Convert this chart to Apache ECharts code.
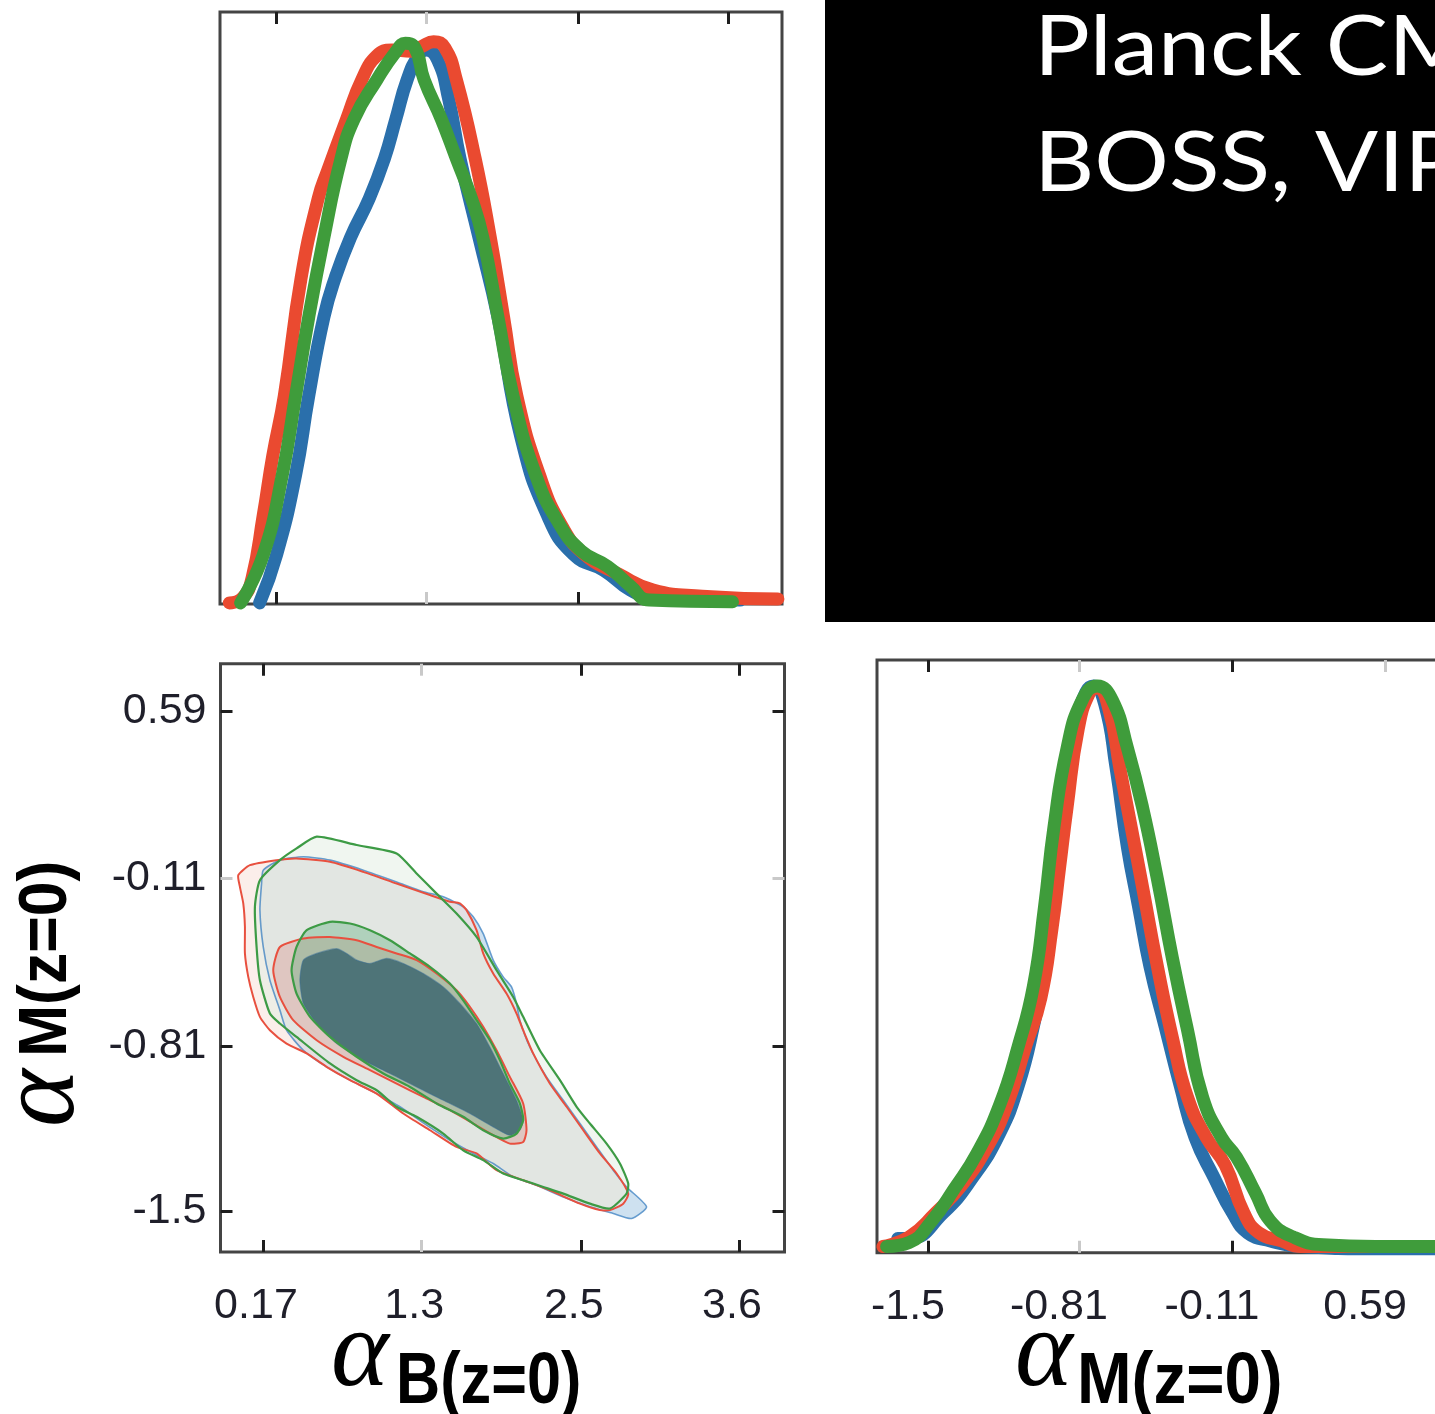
<!DOCTYPE html>
<html>
<head>
<meta charset="utf-8">
<script src="https://cdn.jsdelivr.net/npm/echarts@6/dist/echarts.min.js"></script>
<style>
  html, body { margin: 0; padding: 0; background: #ffffff; }
  #chart { width: 1435px; height: 1414px; }
</style>
</head>
<body>
<div id="chart"></div>
<script>
// ---- tick marks and their printed labels ----
const alphaBTicks = [0.17, 1.31, 2.46, 3.6];
const alphaBTickLabels = ['0.17', '1.3', '2.5', '3.6'];
const alphaMTicks = [-1.5, -0.81, -0.11, 0.59];
const alphaMTickLabels = ['-1.5', '-0.81', '-0.11', '0.59'];

// ---- 1D marginal posterior of alpha_B(z=0), [alphaB, normalised density] ----
const alphaBBlue = [[0.041,0.002],[0.170,0.088],[0.314,0.230],[0.414,0.371],[0.529,0.512],[0.616,0.583],[0.731,0.654],[0.874,0.724],[0.989,0.795],[1.076,0.866],[1.162,0.936],[1.248,0.979],[1.306,0.989],[1.392,0.972],[1.478,0.901],[1.564,0.795],[1.708,0.654],[1.852,0.512],[2.024,0.300],[2.226,0.159],[2.427,0.088],[2.657,0.060],[2.858,0.025],[3.031,0.011],[3.692,0.007]];
const alphaBRed = [[-0.189,0.002],[-0.089,0.011],[-0.017,0.046],[0.069,0.159],[0.141,0.265],[0.228,0.371],[0.357,0.583],[0.486,0.724],[0.558,0.774],[0.702,0.866],[0.817,0.936],[0.932,0.979],[1.047,0.989],[1.191,0.987],[1.277,0.996],[1.363,1.004],[1.449,0.993],[1.536,0.936],[1.679,0.795],[1.794,0.654],[1.895,0.512],[1.996,0.371],[2.168,0.230],[2.341,0.138],[2.513,0.088],[2.772,0.053],[3.031,0.025],[3.404,0.014],[3.979,0.009]];
const alphaBGreen = [[-0.103,0.002],[0.069,0.088],[0.213,0.230],[0.314,0.371],[0.414,0.512],[0.529,0.654],[0.659,0.795],[0.759,0.866],[0.932,0.936],[1.076,0.986],[1.148,1.001],[1.219,0.994],[1.291,0.936],[1.421,0.866],[1.536,0.795],[1.651,0.724],[1.737,0.654],[1.852,0.512],[1.967,0.371],[2.139,0.230],[2.312,0.145],[2.484,0.095],[2.686,0.067],[2.858,0.032],[3.002,0.007],[3.634,0.004]];

// ---- 1D marginal posterior of alpha_M(z=0) ----
const alphaMBlue = [[-1.638,0.025],[-1.586,0.025],[-1.431,0.070],[-1.294,0.134],[-1.173,0.211],[-1.087,0.296],[-1.018,0.401],[-0.967,0.507],[-0.924,0.648],[-0.881,0.789],[-0.829,0.930],[-0.778,0.993],[-0.743,1.004],[-0.692,0.972],[-0.640,0.859],[-0.588,0.718],[-0.537,0.613],[-0.485,0.507],[-0.416,0.401],[-0.347,0.296],[-0.279,0.204],[-0.193,0.134],[-0.107,0.070],[-0.038,0.035],[0.065,0.021],[0.203,0.011],[0.547,0.007],[0.822,0.007]];
const alphaMRed = [[-1.706,0.011],[-1.586,0.028],[-1.466,0.070],[-1.345,0.120],[-1.225,0.190],[-1.139,0.261],[-1.053,0.366],[-0.984,0.451],[-0.932,0.577],[-0.898,0.683],[-0.864,0.789],[-0.812,0.930],[-0.760,0.993],[-0.726,1.000],[-0.674,0.965],[-0.623,0.859],[-0.571,0.754],[-0.519,0.648],[-0.451,0.507],[-0.382,0.380],[-0.313,0.275],[-0.227,0.204],[-0.141,0.155],[-0.055,0.070],[0.014,0.035],[0.117,0.021],[0.203,0.011],[0.616,0.011]];
const alphaMGreen = [[-1.689,0.011],[-1.586,0.018],[-1.483,0.056],[-1.380,0.113],[-1.276,0.176],[-1.173,0.261],[-1.087,0.366],[-1.018,0.472],[-0.967,0.613],[-0.924,0.754],[-0.864,0.894],[-0.795,0.979],[-0.726,1.004],[-0.657,0.979],[-0.588,0.894],[-0.519,0.789],[-0.451,0.662],[-0.382,0.521],[-0.313,0.394],[-0.244,0.275],[-0.158,0.204],[-0.089,0.169],[-0.003,0.106],[0.065,0.056],[0.169,0.028],[0.306,0.014],[0.547,0.011],[0.822,0.011]];

// ---- 2D credible regions in the (alpha_B, alpha_M) plane: 95% (outer) and 68% (inner) ----
const contourBlueOuter = [[0.172,-0.075],[0.292,-0.033],[0.461,-0.019],[0.653,-0.033],[0.893,-0.075],[1.133,-0.124],[1.325,-0.165],[1.469,-0.186],[1.613,-0.228],[1.685,-0.270],[1.757,-0.340],[1.829,-0.451],[1.901,-0.521],[1.961,-0.563],[1.997,-0.632],[2.021,-0.702],[2.093,-0.814],[2.213,-0.939],[2.334,-1.037],[2.454,-1.134],[2.574,-1.232],[2.694,-1.329],[2.790,-1.399],[2.934,-1.482],[2.826,-1.531],[2.694,-1.510],[2.526,-1.482],[2.334,-1.441],[2.141,-1.392],[1.973,-1.357],[1.829,-1.301],[1.685,-1.259],[1.517,-1.204],[1.349,-1.141],[1.157,-1.064],[0.989,-1.009],[0.821,-0.960],[0.628,-0.897],[0.461,-0.828],[0.340,-0.744],[0.292,-0.660],[0.220,-0.535],[0.172,-0.396],[0.148,-0.242],[0.160,-0.131]];
const contourRedOuter = [[-0.008,-0.096],[0.076,-0.054],[0.268,-0.033],[0.412,-0.026],[0.653,-0.040],[0.893,-0.082],[1.133,-0.131],[1.373,-0.179],[1.517,-0.207],[1.589,-0.214],[1.637,-0.242],[1.709,-0.326],[1.757,-0.423],[1.829,-0.507],[1.925,-0.591],[1.997,-0.674],[2.045,-0.744],[2.117,-0.841],[2.237,-0.967],[2.358,-1.064],[2.478,-1.162],[2.598,-1.259],[2.718,-1.343],[2.802,-1.427],[2.766,-1.469],[2.670,-1.496],[2.598,-1.496],[2.454,-1.469],[2.237,-1.413],[2.045,-1.371],[1.853,-1.329],[1.709,-1.259],[1.565,-1.232],[1.373,-1.162],[1.181,-1.092],[0.989,-1.009],[0.797,-0.953],[0.628,-0.897],[0.485,-0.841],[0.340,-0.800],[0.220,-0.744],[0.148,-0.688],[0.100,-0.605],[0.064,-0.521],[0.040,-0.423],[0.040,-0.311],[0.028,-0.214],[0.004,-0.145]];
const contourGreenOuter = [[0.148,-0.117],[0.292,-0.033],[0.412,0.016],[0.557,0.065],[0.845,0.030],[1.133,-0.005],[1.277,-0.089],[1.421,-0.173],[1.565,-0.256],[1.709,-0.354],[1.853,-0.493],[1.973,-0.605],[2.045,-0.688],[2.165,-0.828],[2.310,-0.953],[2.430,-1.064],[2.526,-1.134],[2.646,-1.218],[2.742,-1.301],[2.802,-1.385],[2.790,-1.427],[2.670,-1.489],[2.526,-1.469],[2.334,-1.427],[2.190,-1.399],[2.045,-1.371],[1.901,-1.343],[1.757,-1.287],[1.613,-1.246],[1.469,-1.176],[1.277,-1.106],[1.133,-1.064],[0.989,-0.995],[0.845,-0.953],[0.653,-0.883],[0.412,-0.772],[0.292,-0.716],[0.220,-0.674],[0.148,-0.535],[0.124,-0.396],[0.112,-0.228]];
const contourBlueInner = [[0.461,-0.451],[0.557,-0.423],[0.701,-0.403],[0.773,-0.423],[0.845,-0.451],[0.941,-0.465],[1.061,-0.444],[1.181,-0.465],[1.325,-0.507],[1.469,-0.563],[1.589,-0.632],[1.709,-0.716],[1.805,-0.814],[1.901,-0.925],[1.997,-1.037],[2.045,-1.120],[2.021,-1.162],[1.949,-1.183],[1.829,-1.148],[1.661,-1.092],[1.469,-1.037],[1.277,-0.981],[1.085,-0.925],[0.893,-0.869],[0.701,-0.800],[0.557,-0.716],[0.461,-0.632],[0.436,-0.535]];
const contourRedInner = [[0.292,-0.396],[0.461,-0.361],[0.653,-0.354],[0.845,-0.368],[0.989,-0.396],[1.133,-0.423],[1.277,-0.451],[1.421,-0.507],[1.565,-0.577],[1.661,-0.646],[1.757,-0.730],[1.853,-0.828],[1.949,-0.939],[2.045,-1.050],[2.069,-1.162],[2.045,-1.211],[1.949,-1.218],[1.829,-1.183],[1.685,-1.134],[1.517,-1.078],[1.325,-1.023],[1.133,-0.967],[0.941,-0.911],[0.749,-0.855],[0.557,-0.786],[0.388,-0.702],[0.292,-0.605],[0.244,-0.493]];
const contourGreenInner = [[0.485,-0.326],[0.653,-0.291],[0.797,-0.298],[0.941,-0.326],[1.085,-0.368],[1.229,-0.423],[1.373,-0.479],[1.517,-0.549],[1.613,-0.619],[1.709,-0.702],[1.805,-0.786],[1.877,-0.869],[1.949,-0.967],[2.021,-1.050],[2.045,-1.120],[1.997,-1.176],[1.901,-1.197],[1.757,-1.162],[1.613,-1.106],[1.421,-1.050],[1.229,-0.981],[1.037,-0.925],[0.845,-0.855],[0.653,-0.772],[0.509,-0.688],[0.412,-0.591],[0.376,-0.493],[0.412,-0.396]];

// ---- styling ----
const BLUE = '#2a6fab', RED = '#ea4a30', GREEN = '#3f9c3b';
const TICK_DARK = '#1e1e1e', TICK_LIGHT = '#c9c9c9';
const LABEL_FONT = 'Liberation Sans';

const chart = echarts.init(document.getElementById('chart'), null, { renderer: 'canvas' });

const grids = [
  { left: 220, top: 12, width: 562, height: 592 },        // alpha_B marginal
  { left: 220.5, top: 663.7, width: 564, height: 588.3 }, // alpha_B vs alpha_M
  { left: 877, top: 660, width: 563, height: 592.7 }      // alpha_M marginal
].map(g => Object.assign({
  show: true, borderColor: '#444444', borderWidth: 3, backgroundColor: 'transparent',
  containLabel: false, outerBoundsMode: 'none'
}, g));

const xAxes = [], yAxes = [];
const labelFmt = (ticks, labels) => v => {
  const i = ticks.findIndex(t => Math.abs(t - v) < 1e-9);
  return i < 0 ? '' : labels[i];
};

// One axis per side and tick shade; the first one carries the labels and the series.
function addAxes(list, o) {
  const mainIndex = list.length;
  o.sides.forEach((side, s) => {
    [[o.dark, TICK_DARK], [o.light, TICK_LIGHT]].forEach(([vals, color], j) => {
      const ax = {
        type: 'value', gridIndex: o.grid, min: o.min, max: o.max, position: side,
        axisLine: { show: false, onZero: false }, splitLine: { show: false }, axisPointer: { show: false },
        axisTick: { show: vals.length > 0, inside: true, length: 12, customValues: vals,
                    lineStyle: { color: color, width: 3 } },
        axisLabel: { show: false }
      };
      if (s === 0 && j === 0 && o.labels) ax.axisLabel = Object.assign({
        show: true, customValues: o.labelTicks, formatter: labelFmt(o.labelTicks, o.labels),
        fontFamily: LABEL_FONT, fontSize: 43, color: '#1f1f2a'
      }, o.labelStyle);
      list.push(ax);
    });
  });
  return mainIndex;
}

// alpha_B marginal
const xB1 = addAxes(xAxes, { grid: 0, min: -0.26, max: 4.01, sides: ['bottom', 'top'],
  dark: [0.17, 2.46, 3.6], light: [1.31] });
const yB1 = yAxes.length;
yAxes.push({ type: 'value', gridIndex: 0, min: 0, max: 1.057, show: false });

// 2D panel
const x2 = addAxes(xAxes, { grid: 1, min: -0.136, max: 3.928, sides: ['bottom', 'top'],
  dark: [0.17, 2.46, 3.6], light: [1.31],
  labels: alphaBTickLabels, labelTicks: alphaBTicks,
  labelStyle: { margin: 33, padding: [0, 14, 0, 0] } });
const y2 = addAxes(yAxes, { grid: 1, min: -1.671, max: 0.788, sides: ['left', 'right'],
  dark: [0.59, -0.81, -1.5], light: [-0.11],
  labels: alphaMTickLabels, labelTicks: alphaMTicks,
  labelStyle: { margin: 14 } });

// alpha_M marginal
const xM = addAxes(xAxes, { grid: 2, min: -1.733, max: 0.841, sides: ['bottom', 'top'],
  dark: [-1.5, -0.11], light: [-0.81, 0.59],
  labels: alphaMTickLabels, labelTicks: alphaMTicks,
  labelStyle: { margin: 33, padding: [0, 40, 0, 0] } });
const yM = yAxes.length;
yAxes.push({ type: 'value', gridIndex: 2, min: 0, max: 1.05, show: false });

function curve(data, color, xi, yi) {
  return { type: 'line', xAxisIndex: xi, yAxisIndex: yi, data: data, symbol: 'none',
    smooth: 0.5, silent: true,
    lineStyle: { color: color, width: 13, cap: 'round', join: 'round' } };
}

function region(points, style, z) {
  return { type: 'custom', xAxisIndex: x2, yAxisIndex: y2, data: points, silent: true, z: z,
    renderItem(params, api) {
      if (params.dataIndexInside !== 0) return null;
      const pts = [];
      for (let i = 0; i < params.dataInsideLength; i++) {
        pts.push(api.coord([api.value(0, i), api.value(1, i)]));
      }
      return { type: 'polygon', shape: { points: pts, smooth: 0.2 }, style: style };
    } };
}

const series = [
  curve(alphaBBlue, BLUE, xB1, yB1),
  curve(alphaBRed, RED, xB1, yB1),
  curve(alphaBGreen, GREEN, xB1, yB1),
  curve(alphaMBlue, BLUE, xM, yM),
  curve(alphaMRed, RED, xM, yM),
  curve(alphaMGreen, GREEN, xM, yM),
  // filled regions
  region(contourBlueOuter, { fill: 'rgba(190,215,235,0.75)', stroke: null }, 2),
  region(contourRedOuter, { fill: 'rgba(248,222,214,0.5)', stroke: null }, 2),
  region(contourGreenOuter, { fill: 'rgba(225,238,225,0.5)', stroke: null }, 2),
  region(contourRedInner, { fill: 'rgba(215,125,115,0.3)', stroke: null }, 2),
  region(contourGreenInner, { fill: 'rgba(95,175,125,0.38)', stroke: null }, 2),
  region(contourBlueInner, { fill: 'rgba(45,90,104,0.74)', stroke: null }, 2),
  // outlines
  region(contourBlueOuter, { fill: null, stroke: 'rgba(58,127,192,0.75)', lineWidth: 1.6 }, 3),
  region(contourBlueInner, { fill: null, stroke: 'rgba(58,110,150,0.5)', lineWidth: 1.2 }, 3),
  region(contourRedOuter, { fill: null, stroke: '#e8503f', lineWidth: 2 }, 3),
  region(contourRedInner, { fill: null, stroke: '#e8503f', lineWidth: 2 }, 3),
  region(contourGreenOuter, { fill: null, stroke: '#3d9b45', lineWidth: 2.2 }, 3),
  region(contourGreenInner, { fill: null, stroke: '#3d9b45', lineWidth: 2.2 }, 3)
];

const TITLE_ALPHA = 'italic 110px "Liberation Serif"';
const TITLE_SUB = 'bold 72px "Liberation Sans"';

const graphic = [
  { type: 'rect', shape: { x: 825, y: 0, width: 620, height: 622 }, style: { fill: '#000' }, z: 1 },
  { type: 'text', x: 1034, y: 48, z: 2, scaleX: 1.11,
    style: { text: 'Planck CMB,', font: '84px Lato', fill: '#fff', align: 'left', verticalAlign: 'middle' } },
  { type: 'text', x: 1034, y: 164, z: 2, scaleX: 1.11,
    style: { text: 'BOSS, VIPERS', font: '84px Lato', fill: '#fff', align: 'left', verticalAlign: 'middle' } },
  // x title, 2D / alpha_B
  { type: 'text', x: 331, y: 1356, style: { text: 'α', font: TITLE_ALPHA, fill: '#000', align: 'left', verticalAlign: 'middle' } },
  { type: 'text', x: 396, y: 1383, scaleX: 0.85,
    style: { text: 'B(z=0)', font: TITLE_SUB, fill: '#000', align: 'left', verticalAlign: 'middle' } },
  // x title, alpha_M marginal
  { type: 'text', x: 1015, y: 1356, style: { text: 'α', font: TITLE_ALPHA, fill: '#000', align: 'left', verticalAlign: 'middle' } },
  { type: 'text', x: 1077, y: 1383, scaleX: 0.91,
    style: { text: 'M(z=0)', font: TITLE_SUB, fill: '#000', align: 'left', verticalAlign: 'middle' } },
  // y title, 2D / alpha_M
  { type: 'text', x: 44, y: 1127, rotation: Math.PI / 2,
    style: { text: 'α', font: TITLE_ALPHA, fill: '#000', align: 'left', verticalAlign: 'middle' } },
  { type: 'text', x: 47, y: 1057, rotation: Math.PI / 2, scaleX: 0.92,
    style: { text: 'M(z=0)', font: 'bold 68px "Liberation Sans"', fill: '#000', align: 'left', verticalAlign: 'middle' } }
];

chart.setOption({
  animation: false,
  backgroundColor: '#ffffff',
  grid: grids,
  xAxis: xAxes,
  yAxis: yAxes,
  series: series,
  graphic: graphic
});
</script>
</body>
</html>
